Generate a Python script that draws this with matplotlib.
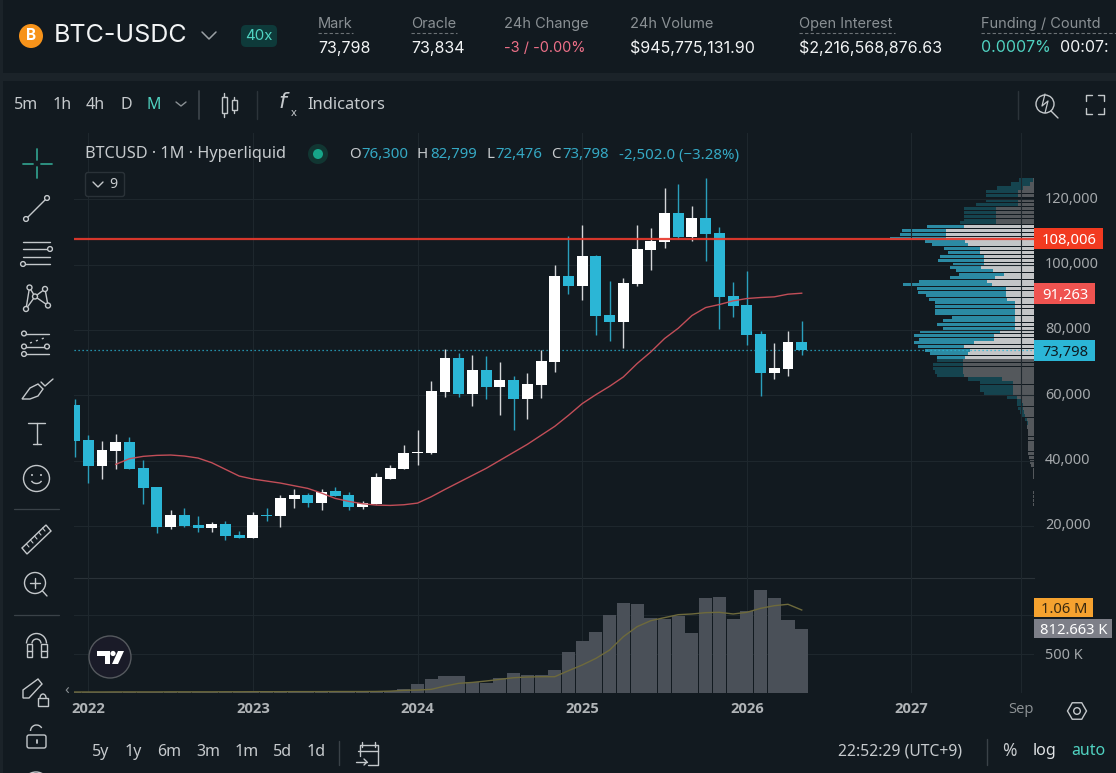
import numpy as np
from matplotlib import pyplot as plt
from matplotlib.patches import Circle, Rectangle, Polygon, FancyBboxPatch, Arc
from matplotlib.ticker import FuncFormatter
from matplotlib.transforms import ScaledTranslation

# monthly candles, Dec 2021 .. May 2026 (month 0 = Dec 2021)
opens = [56912, 46176, 38302, 42801, 45562, 37587, 31760, 19590, 23169, 20102, 19284, 20408, 17037,
         16216, 23169, 22960, 28176, 29304, 26953, 30530, 29304, 25726, 26544, 34314, 37382,
         42188, 42188, 61002, 71329, 60388, 67648, 62434, 64580, 58753, 63047, 70100, 96483,
         93415, 102618, 84519, 82372, 94029, 104458, 106912, 115807, 108446, 114274, 109673, 90348,
         87587, 78691, 66728, 67955, 76300]
highs = [58956, 47914, 45868, 48220, 47300, 40040, 31800, 24703, 25316, 22858, 21122, 21329, 18262,
         24089, 25316, 29304, 31143, 30020, 31349, 31760, 30224, 27464, 36257, 38507, 44846,
         49243, 64273, 74090, 72863, 72249, 71943, 70100, 65809, 66728, 73783, 99857, 108753,
         112127, 102924, 94949, 95869, 112127, 111207, 123477, 124704, 117955, 126544, 111513, 94642,
         98016, 79611, 75930, 79611, 82799]
lows = [41063, 33087, 34314, 37382, 37400, 26645, 17750, 19079, 19590, 17954, 17954, 15498, 16114,
        16114, 21431, 19590, 25418, 25726, 24805, 28998, 24805, 25115, 26544, 34314, 37382,
        38507, 41881, 59365, 59365, 56605, 58753, 53845, 49243, 52618, 59059, 67036, 90961,
        89120, 78384, 76544, 74397, 93415, 98323, 105071, 107832, 107219, 101084, 80225, 83906,
        75316, 59775, 64888, 65809, 72476]
closes = [45971, 38302, 43108, 45562, 37382, 31555, 19590, 23169, 19898, 19284, 20408, 16831, 16216,
          23169, 22858, 28384, 29304, 26953, 30427, 29100, 25623, 26953, 34825, 37587, 42188,
          42494, 61206, 71329, 60388, 67648, 62434, 64580, 58753, 63353, 70409, 96483, 93415,
          102618, 84212, 82372, 94335, 104765, 107219, 115807, 108446, 114274, 109366, 90041, 87280,
          78384, 66728, 68261, 76237, 73798]

# moving average, starts Mar 2022
ma_price = [38813, 40552, 41268, 41574, 41677, 41370, 40756, 39326, 37281, 35236,
            34314, 33701, 33087, 32269, 31452, 30020, 28384, 27464, 26748, 26339, 26237, 26441,
            26953, 28895, 31144, 33292, 35439, 37587, 40040, 42494, 44948, 47709, 50470, 53844,
            57423, 60184, 62740, 65603, 69693, 73272, 77362, 80531, 84417, 86871, 87792, 88916,
            89632, 89939, 90143, 90961, 91263]

volume = [11, 12, 11, 12, 13, 12, 13, 12, 11, 12, 13, 14, 13, 12, 14, 13, 14, 13, 12, 13, 12, 14, 15, 18,
          43, 111, 175, 214, 214, 141, 128, 184, 252, 222, 222, 291, 521, 662, 778, 1000, 1150, 1137,
          957, 940, 987, 765, 1214, 1227, 945, 1047, 1316, 1214, 932, 812.663]
vol_ma = [9, 9, 9, 10, 10, 10, 10, 11, 11, 11, 11, 12, 12, 13, 13, 13, 14, 14, 14, 15, 15, 15, 16, 20,
          30, 34, 43, 85, 120, 132, 150, 171, 192, 201, 205, 205, 282, 355, 440, 547, 718, 846,
          923, 962, 1000, 1009, 1026, 1030, 1009, 1030, 1081, 1115, 1133, 1060]

# volume profile rows
vp_price = [125930, 124704, 123477, 122352, 121125, 119800, 118569, 117342, 116115, 114888,
            113660, 112842, 111615, 110388, 109161, 108037, 107116, 106094, 104867, 103640,
            102618, 101391, 100164, 99141, 98118, 97096, 95971, 94847, 93824, 92699,
            91574, 90449, 89325, 88303, 87178, 86053, 84928, 83906, 82781, 81657,
            80532, 79407, 78282, 77157, 76033, 74908, 73783, 72760, 71636, 70613,
            69488, 68261, 67136, 66114, 64989, 63864, 62740, 61615, 60490, 59365,
            58240, 57116, 55991, 54866, 53742, 52617, 51494, 50263, 49037, 47913,
            46686, 45562, 44437, 43313, 42086, 40859, 39529, 38404, 37177, 36153,
            34928, 30326, 28998, 27775, 26542]
vp_up = [2, 12, 32, 48, 48, 48, 48, 114, 114, 114,
         114, 114, 210, 264, 264, 264, 207, 197, 162, 162,
         150, 150, 150, 160, 122, 90, 117, 142, 127, 84,
         84, 84, 82, 57, 57, 57, 57, 57, 57, 57,
         57, 102, 120, 120, 180, 210, 192, 197, 207, 214,
         214, 214, 214, 210, 97, 64, 64, 64, 64, 52,
         40, 34, 32, 30, 27, 20, 17, 22, 17, 17,
         17, 17, 19, 19, 19, 14, 12, 10, 2, 2,
         2, 2, 2, 2, 2]
vp_down = [42, 58, 80, 96, 96, 96, 126, 96, 96, 96,
           96, 108, 112, 133, 138, 168, 120, 110, 108, 95,
           132, 137, 94, 92, 112, 135, 135, 203, 267, 266,
           263, 240, 232, 240, 240, 240, 240, 190, 217, 235,
           217, 240, 240, 224, 180, 137, 135, 115, 85, 78,
           88, 88, 83, 82, 100, 98, 98, 98, 86, 30,
           12, 18, 15, 12, 10, 7, 5, 0, 0, 0,
           0, 0, 0, 0, 0, 0, 0, 0, 0, 0,
           0, 0, 0, 0, 0]

price_ticks = [20000, 40000, 60000, 80000, 100000, 120000]
year_ticks = [1, 13, 25, 37, 49, 61, 69]
year_labels = ['2022', '2023', '2024', '2025', '2026', '2027', 'Sep']
RESISTANCE = 108006
LAST_PRICE = 73798
MA_LAST = 91263

BG = '#121a20'
GUTTER = '#1b2329'
GRID = '#1e272d'
TEAL = '#2bb6d6'
TEXT = '#c6cacd'
MUTED = '#8a9094'
ICON = '#c4c8cb'
MINT = '#50d2c1'
FONT = 'Noto Sans'
W, H = 1116, 773

plt.rcParams['font.family'] = FONT

fig = plt.figure(figsize=(W / 100, H / 100), dpi=100, facecolor=BG)


def box(left, top, right, bottom):
    return [left / W, 1 - bottom / H, (right - left) / W, (bottom - top) / H]


months = np.arange(len(opens))

# price pane
ax = fig.add_axes(box(74, 133, 1034, 577.5))
ax.set_zorder(2)
ax.patch.set_visible(False)
ax.set_xlim(-0.04, 69.93)
ax.set_ylim(4150, 140350)
ax.yaxis.tick_right()
ax.set_yticks(price_ticks)
ax.yaxis.set_major_formatter(FuncFormatter(lambda v, _: f'{int(v):,}'))
ax.set_xticks(year_ticks)
ax.tick_params(axis='x', length=0, labelbottom=False)
ax.tick_params(axis='y', length=0, pad=8, labelsize=10.4, labelcolor='#a5a9ac')
# labels sit a little above the grid line
for lab in ax.get_yticklabels():
    lab.set_transform(lab.get_transform() + ScaledTranslation(0, 1.5 / 72, fig.dpi_scale_trans))
ax.grid(True, color=GRID, lw=0.8)
ax.set_axisbelow(True)
for s in ax.spines.values():
    s.set_visible(False)
ax.spines['bottom'].set_visible(True)
ax.spines['bottom'].set_color('#2a3238')

# profile sits behind the candles, 1 unit = a third of a pixel
ax_vp = ax.twiny()
ax_vp.set_zorder(1)
ax_vp.set_xlim(2880, 0)
ax_vp.axis('off')
vp_price_arr = np.array(vp_price)
inside = (vp_price_arr > 71000) & (vp_price_arr < 112000)
ax_vp.barh(vp_price, vp_up, height=960, color=np.where(inside, '#c3c5c7', '#54585c'), lw=0)
ax_vp.barh(vp_price, vp_down, left=vp_up, height=960, color=np.where(inside, '#2b8aa3', '#15444f'), lw=0)
ax.set_zorder(2)

colors = [TEAL if c < o else '#ffffff' for o, c in zip(opens, closes)]
wick_colors = ['#2a9fbc' if c < o else '#d4d6d8' for o, c in zip(opens, closes)]
ax.vlines(months, lows, highs, colors=wick_colors, lw=1.0, zorder=3)
ax.bar(months, np.array(closes) - np.array(opens), bottom=opens, width=0.8, color=colors, lw=0, zorder=4)
ax.plot(months[3:], ma_price, color='#c24e58', lw=1.0, zorder=5)
ax.axhline(LAST_PRICE, color=TEAL, lw=0.9, ls=(0, (1, 2.2)), zorder=2)
ax.axhline(RESISTANCE, color='#e8392c', lw=1.6, alpha=0.92, zorder=6)


def tag(axes, y, text, width, half, face, color):
    tr = axes.get_yaxis_transform()
    axes.add_patch(Rectangle((1.0, y - half), width / 960, half * 2, transform=tr, color=face, lw=0,
                             clip_on=False, zorder=8))
    axes.text(1.0 + (width / 2 + 1) / 960, y, text, transform=tr, color=color, fontsize=10.6, ha='center',
              va='center_baseline', clip_on=False, zorder=9)


tag(ax, RESISTANCE, '108,006', 69, 3200, '#f23a20', '#ffffff')
tag(ax, MA_LAST, '91,263', 61, 3200, '#ef5350', '#ffffff')
tag(ax, LAST_PRICE, '73,798', 61, 3200, TEAL, '#0d1a20')

# volume pane
ax_v = fig.add_axes(box(74, 578, 1034, 692.7))
ax_v.set_zorder(2)
ax_v.patch.set_visible(False)
ax_v.set_xlim(-0.04, 69.93)
ax_v.set_ylim(0, 1470)
ax_v.bar(months, volume, width=0.95, color='#4a5058', lw=0, zorder=2)
ax_v.plot(months, vol_ma, color='#6e6a3c', lw=1.0, zorder=3)
ax_v.yaxis.tick_right()
ax_v.set_yticks([500, 1000])
ax_v.set_yticklabels(['500 K', ''])
ax_v.set_xticks(year_ticks)
ax_v.set_xticklabels(year_labels, family='Open Sans', fontweight='bold')
ax_v.tick_params(axis='both', length=0)
ax_v.tick_params(axis='y', pad=8, labelsize=10.4, labelcolor='#a5a9ac')
ax_v.tick_params(axis='x', pad=7, labelsize=10.6, labelcolor='#b0b4b7')
ax_v.get_xticklabels()[-1].set_fontweight('normal')
ax_v.get_xticklabels()[-1].set_color('#8e9396')
ax_v.grid(True, color=GRID, lw=0.8)
ax_v.set_axisbelow(True)
for s in ax_v.spines.values():
    s.set_visible(False)
tag(ax_v, 1092, '1.06 M', 59, 122, '#f5a22f', '#3a2a10')
tag(ax_v, 823, '812.663 K', 78, 122, '#7d7f88', '#ffffff')

# page furniture in pixel coordinates
ui = fig.add_axes([0, 0, 1, 1])
ui.set_zorder(5)
ui.set_xlim(0, W)
ui.set_ylim(H, 0)
ui.axis('off')
ui.patch.set_visible(False)


def t(x, y, s, size=10.5, color=TEXT, ha='left', weight='normal', family=None):
    ui.text(x, y, s, fontsize=size, color=color, ha=ha, va='center', fontweight=weight,
            family=family or FONT)


def ln(xs, ys, color=ICON, lw=1.0, **kw):
    ui.plot(xs, ys, color=color, lw=lw, solid_capstyle='round', **kw)


def dot(x, y, r=2.4, color=ICON, fill=BG):
    ui.add_patch(Circle((x, y), r, fc=fill, ec=color, lw=1.0, zorder=4))


# gutters
ui.add_patch(Rectangle((0, 73), W, 8, color=GUTTER, lw=0, zorder=0))
ui.add_patch(Rectangle((0, 0), 3, H, color=GUTTER, lw=0, zorder=0))

# header
ui.add_patch(Circle((31, 36), 12, color='#f7931a', lw=0))
t(31, 36, 'B', 11, '#ffffff', 'center', 'bold', 'Inter')
t(54, 36, 'BTC-USDC', 18, '#f2f4f5', family='Inter')
ln([202, 209, 216], [32, 39, 32], '#9aa0a4', 1.1)
ui.add_patch(FancyBboxPatch((241, 25), 36, 22, boxstyle='round,pad=0,rounding_size=5', fc='#0e3a3a', ec='none'))
t(259, 36, '40x', 10.8, MINT, 'center', family='Inter')

head = [(318, 'Mark', '73,798', '#f2f4f5', 35), (411, 'Oracle', '73,834', '#f2f4f5', 46),
        (504, '24h Change', '-3 / -0.00%', '#ed7088', 0), (630, '24h Volume', '$945,775,131.90', '#f2f4f5', 0),
        (799, 'Open Interest', '$2,216,568,876.63', '#f2f4f5', 96), (981, 'Funding / Countd', '0.0007%', MINT, 135)]
for x, name, val, col, dash in head:
    t(x, 24, name, 10.5, MUTED, family='Inter')
    t(x, 48, val, 10.5 if col == '#ed7088' else 11.5, col, family='Inter')
    if dash:
        ln([x, x + dash], [32.5, 32.5], '#6c7276', 0.8, ls=(0, (3, 2)))
t(1060, 48, '00:07:', 11.5, '#f2f4f5', family='Inter')

# toolbar
for x, s, c in [(14, '5m', TEXT), (53, '1h', TEXT), (86, '4h', TEXT), (120, 'D', TEXT), (146, 'M', MINT)]:
    t(x, 105, s, 11.5, c)
ln([176, 181, 186], [102, 106, 102], MUTED)
ln([198.5, 198.5], [91, 119], '#3a4248', 1.3)
ln([257, 257], [91, 119], '#2c343a', 1.0)
ln([224, 224], [93, 117])
ln([234, 234], [97, 113])
ui.add_patch(Rectangle((221.5, 97), 5, 16, fc=BG, ec=ICON, lw=1.0, zorder=3))
ui.add_patch(Rectangle((231.5, 100), 5, 10, fc=BG, ec=ICON, lw=1.0, zorder=3))
t(278, 103, r'$f$', 16, ICON)
t(291, 113, 'x', 8, ICON)
t(307, 105, 'Indicators', 11.9, TEXT)
ln([1018, 1018], [91, 119], '#2c343a', 1.0)
ui.add_patch(Circle((1045, 104), 9, fc='none', ec=ICON, lw=1.0))
ln([1051, 1058], [111, 118])
ln([1045, 1042, 1048, 1045], [94, 106, 101, 113], ICON, 0.9)
for cx, cy, dx, dy in [(1086, 95, 1, 1), (1104, 95, -1, 1), (1086, 114, 1, -1), (1104, 114, -1, -1)]:
    ln([cx + 6 * dx, cx, cx], [cy, cy, cy + 6 * dy])

# chart legend
t(85, 154, 'BTCUSD \u00b7 1M \u00b7 Hyperliquid', 11.7, TEXT)
ui.add_patch(Circle((318, 154), 10, color='#113632', lw=0))
ui.add_patch(Circle((318, 154), 5, color='#17a589', lw=0))
for x, s, c in [(349, 'O', TEXT), (361, '76,300', '#35a9c4'), (417, 'H', TEXT), (430, '82,799', '#35a9c4'),
                (486, 'L', TEXT), (495, '72,476', '#35a9c4'), (551, 'C', TEXT), (562, '73,798', '#35a9c4'),
                (619, '-2,502.0 (\u22123.28%)', '#35a9c4')]:
    t(x, 155, s, 10.8, c)
ui.add_patch(FancyBboxPatch((85.5, 172.5), 39, 24, boxstyle='round,pad=0,rounding_size=2.5', fc=BG, ec='#2a3238', lw=1))
ln([93, 98, 103], [182, 187, 182], ICON)
t(109, 184, '9', 10.2, TEXT)

# left drawing tools
ln([36.7, 36.7], [149, 160], '#2f9a89', 1.3)
ln([36.7, 36.7], [167, 178], '#2f9a89', 1.3)
ln([23, 33], [163.5, 163.5], '#2f9a89', 1.3)
ln([41, 52], [163.5, 163.5], '#2f9a89', 1.3)
ln([26, 47], [219, 198])
dot(26, 219)
dot(47, 198)
ln([23, 50], [241.5, 241.5])
ln([23, 50], [249, 249])
dot(50, 249)
ln([23, 50], [256.5, 256.5])
ln([23, 50], [264, 264])
dot(23, 264)
pts = [(26, 309), (29.5, 287.5), (35, 296.5), (45, 289), (48, 305.5)]
ln([p[0] for p in pts], [p[1] for p in pts])
ln([26, 35, 48], [309, 296.5, 305.5])
for p in pts:
    dot(p[0], p[1], 2.5)
ln([24, 49], [333.5, 333.5])
ln([24, 47], [346.5, 346.5])
ln([24, 49], [354, 354])
ln([30, 47], [343, 337], ICON, 1.0, ls=(0, (1.5, 3)))
dot(24, 333.5)
dot(24, 346.5)
dot(47, 346.5)
dot(24, 354)
ui.add_patch(Polygon([(22, 399), (30, 388), (38, 384), (43, 389), (38, 396), (30, 399)], closed=True, fc='none', ec=ICON, lw=1.0))
ln([41, 45, 53], [382, 386, 379])
ln([28, 45], [423, 423])
ln([37, 37], [423, 444])
ln([33, 41], [444, 444])
ui.add_patch(Circle((36.5, 478.5), 13, fc='none', ec=ICON, lw=1.0))
ui.add_patch(Circle((32, 475), 1.0, color=ICON, lw=0))
ui.add_patch(Circle((41, 475), 1.0, color=ICON, lw=0))
ui.add_patch(Arc((36.5, 479), 11, 9, theta1=20, theta2=160, ec=ICON, lw=1.0))
ln([14, 59], [509, 509], '#3a4248', 0.9)
ui.add_patch(Polygon([(22, 548), (46, 525), (51, 531), (27, 554)], closed=True, fc='none', ec=ICON, lw=1.0))
for k in range(5):
    ln([26.5 + 4 * k, 29 + 4 * k], [544 - 4 * k, 547 - 4 * k], ICON, 0.8)
ui.add_patch(Circle((35, 583), 10.5, fc='none', ec=ICON, lw=1.0))
ln([42.5, 47], [591, 596])
ln([30, 40], [583, 583])
ln([35, 35], [578, 588])
ln([14, 59], [615, 615], '#3a4248', 0.9)
ui.add_patch(Arc((36.5, 643.5), 20, 20, theta1=180, theta2=360, ec=ICON, lw=1.0))
ui.add_patch(Arc((36.5, 643.5), 9, 9, theta1=180, theta2=360, ec=ICON, lw=1.0))
for x0, x1 in [(26.5, 32), (41, 46.5)]:
    ui.add_patch(Rectangle((x0, 643.5), x1 - x0, 13.5, fc='none', ec=ICON, lw=1.0))
    ln([x0, x1], [651, 651])
ui.add_patch(Polygon([(23, 690), (38, 679), (42, 684), (29, 698), (23, 698)], closed=True, fc='none', ec=ICON, lw=1.0))
ui.add_patch(Rectangle((38, 698), 10, 8, fc=BG, ec=ICON, lw=1.0))
ui.add_patch(Arc((43, 698), 6, 8, theta1=180, theta2=360, ec=ICON, lw=1.0))
ui.add_patch(FancyBboxPatch((27, 735), 19, 13, boxstyle='round,pad=0,rounding_size=2', fc='none', ec=ICON, lw=1.0))
ui.add_patch(Arc((36.5, 731), 12, 12, theta1=180, theta2=330, ec=ICON, lw=1.0))
ln([36.5, 36.5], [740, 743], ICON, 1.3)
ui.add_patch(Circle((36, 785), 13, fc='none', ec=ICON, lw=1.0))
t(67, 691, '\u2039', 11, MUTED, 'center')

# tradingview badge
ui.add_patch(Circle((110, 657), 21, fc='#1a1b28', ec='#55595e', lw=1.0))
ui.add_patch(Polygon([(97, 651), (110, 651), (110, 664), (105, 664), (105, 656), (97, 656)], closed=True, color='#ffffff', lw=0))
ui.add_patch(Circle((113, 653.5), 2.6, color='#ffffff', lw=0))
ui.add_patch(Polygon([(118, 651), (124, 651), (118, 664), (112, 664)], closed=True, color='#ffffff', lw=0))

# hexagon settings button and bottom bar
ang = np.deg2rad(np.arange(0, 360, 60))
ui.add_patch(Polygon(np.column_stack([1077 + 9.5 * np.cos(ang), 711 + 9.5 * np.sin(ang)]), closed=True, fc='none', ec=ICON, lw=1.0))
ui.add_patch(Circle((1077, 711), 3.3, fc='none', ec=ICON, lw=1.0))
for x, s in [(92, '5y'), (125, '1y'), (157, '6m'), (196, '3m'), (235, '1m'), (273, '5d'), (307, '1d')]:
    t(x, 752, s, 11.5)
ln([339, 339], [741, 765], '#3a4248', 1.0)
ln([360, 360, 378, 378, 368], [756, 745, 745, 765, 765])
ln([358, 378], [751, 751])
ln([362, 362], [742, 747])
ln([375, 375], [742, 747])
ln([356, 367], [762, 762])
ln([364, 367, 364], [759, 762, 765])
t(838, 751, '22:52:29 (UTC+9)', 11.3, TEXT)
ln([987, 987], [739, 765], '#3a4248', 1.0)
t(1002, 751, '%', 12.5, TEXT)
t(1033, 751, 'log', 11.5, '#e0e3e5')
t(1071, 751, 'auto', 11.5, MINT)

fig.savefig('out.png', dpi=100, facecolor=BG)
